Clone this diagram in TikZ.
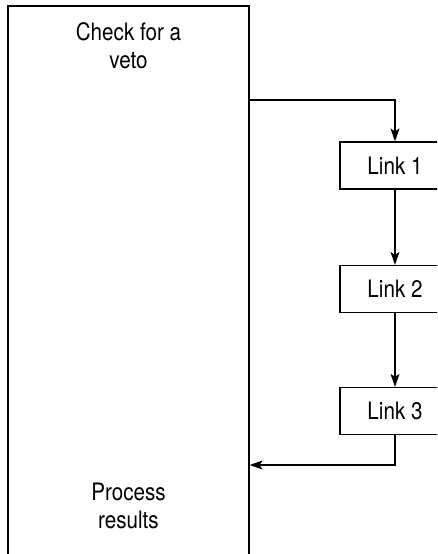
\documentclass[tikz,border=0pt]{standalone}
\usepackage{fontspec}
\setmainfont{TeX Gyre Heros}[FakeStretch=0.86]
\usetikzlibrary{positioning,arrows.meta,calc}

\begin{document}
\begin{tikzpicture}[
  x=1pt, y=1pt,
  every node/.style={font=\fontsize{24}{27.5}\selectfont},
  plan/.style={draw, line width=1.2pt, rectangle, minimum width=241pt, minimum height=568pt, inner sep=0pt},
  linkbox/.style={draw, line width=1.2pt, rectangle, minimum width=110pt, minimum height=47pt, inner sep=0pt},
  txt/.style={align=center, inner sep=0pt, anchor=north},
  flow/.style={line width=1.2pt, -{Stealth[length=13pt, width=9pt, inset=3pt]}}
]
  \path[use as bounding box, clip] (0,0) rectangle (437,554);

  \node[plan] (loop) at (128.5,264) {};
  \node[txt] (veto) at (128.5,531.5) {Check for a\\veto};
  \node[txt] (results) at (128.5,71) {Process\\results};

  \node[linkbox] (link1) at (395,388.5) {Link 1};
  \node[linkbox] (link2) at (395,265) {Link 2};
  \node[linkbox] (link3) at (395,143) {Link 3};

  \coordinate (vetoout) at (loop.east |- 0,454);
  \coordinate (backin) at (loop.east |- 0,89);

  \draw[flow] (vetoout) -| (link1.north);
  \draw[flow] (link1) -- (link2);
  \draw[flow] (link2) -- (link3);
  \draw[flow] (link3.south) |- (backin);
\end{tikzpicture}
\end{document}
